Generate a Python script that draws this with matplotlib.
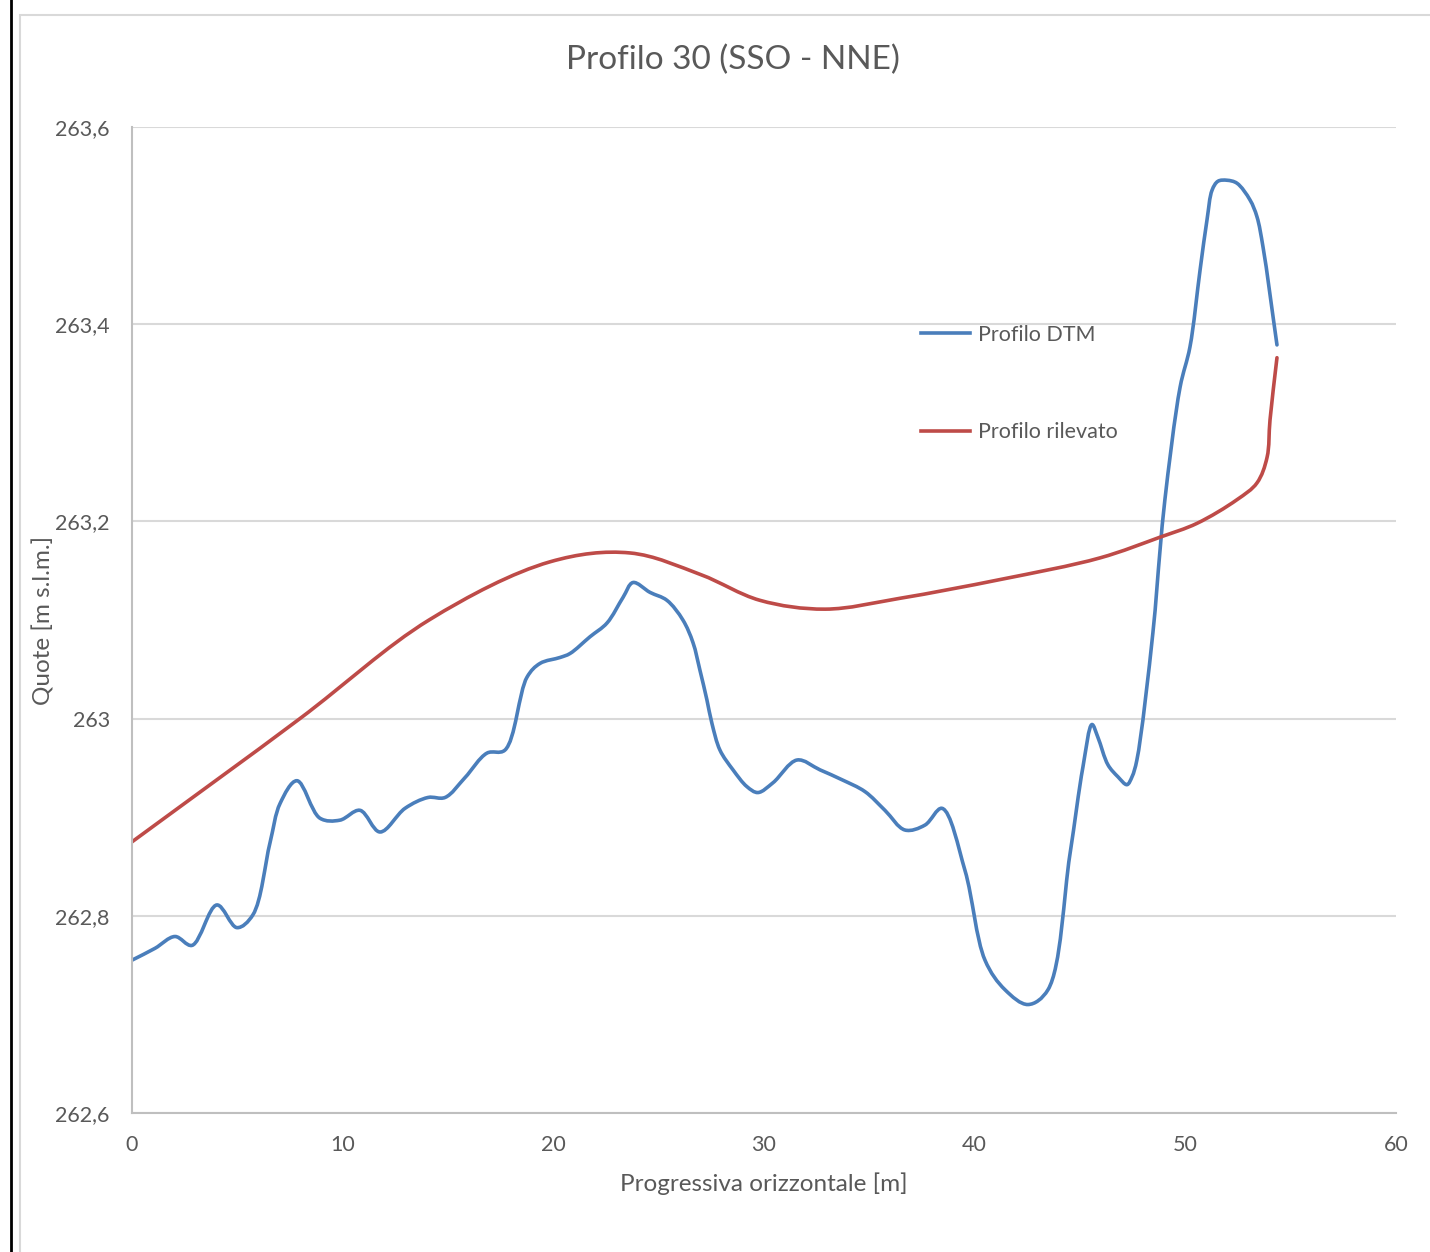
import matplotlib.pyplot as plt
import numpy as np
from matplotlib.path import Path
from matplotlib.patches import PathPatch, Rectangle
from matplotlib.lines import Line2D

plt.rcParams['font.family'] = ['Lato', 'DejaVu Sans']

# dati
x_dtm = [0, 1.09, 2.04, 2.85, 4.03, 4.98, 5.74, 6.55, 7.03, 7.83, 8.92, 9.87,
         10.82, 11.77, 12.96, 14.05, 14.86, 15.8, 16.85, 17.7, 18.75, 19.37,
         20.32, 20.79, 21.74, 22.55, 23.31, 23.78, 24.59, 25.39, 26.15, 26.63,
         26.96, 27.29, 27.53, 27.91, 28.53, 29.19, 29.71, 30.43, 31.57, 32.66,
         33.7, 34.79, 35.74, 36.69, 37.64, 38.45, 39.54, 40.49, 41.44, 42.53,
         43.48, 44.52, 45.14, 45.57, 45.85, 46.33, 46.80, 47.23, 47.47, 47.70,
         48.46, 48.80, 49.03, 49.75, 50.22, 50.70, 51.03, 51.27, 51.55,
         51.98, 52.45, 53.07, 53.40, 53.69, 54.35]
y_dtm = [262.755, 262.767, 262.779, 262.770, 262.811, 262.788, 262.801, 262.874,
         262.914, 262.937, 262.899, 262.897, 262.907, 262.885, 262.909, 262.920,
         262.920, 262.940, 262.965, 262.968, 263.042, 263.056, 263.062, 263.066,
         263.083, 263.097, 263.123, 263.138, 263.128, 263.120, 263.100, 263.077,
         263.049, 263.019, 262.995, 262.968, 262.948, 262.931, 262.925, 262.935,
         262.958, 262.948, 262.938, 262.926, 262.907, 262.887, 262.892, 262.909,
         262.846, 262.755, 262.725, 262.710, 262.725, 262.862, 262.951, 262.994,
         262.981, 262.953, 262.941, 262.933, 262.941, 262.958, 263.087, 263.171,
         263.222, 263.336, 263.377, 263.455, 263.506, 263.536, 263.545,
         263.546, 263.543, 263.526, 263.509, 263.478, 263.379]

x_ril = [0, 7.97, 14.1, 19.84, 23.64, 27.0, 29.8, 32.9, 36.45, 41.2, 45.95,
         48.8, 50.55, 52.45, 53.40, 53.88, 54.02, 54.35]
y_ril = [262.875, 263.0, 263.1, 263.159, 263.168, 263.146, 263.120, 263.111,
         263.122, 263.141, 263.163, 263.184, 263.198, 263.222, 263.239, 263.265,
         263.303, 263.366]

y_ticks = [262.6, 262.8, 263.0, 263.2, 263.4, 263.6]
y_labels = ['262,6', '262,8', '263', '263,2', '263,4', '263,6']
x_ticks = [0, 10, 20, 30, 40, 50, 60]


def smooth_path(ax, xs, ys, alpha=0.5):
    # linea smussata (Catmull-Rom centripeta) calcolata in coordinate schermo
    p = ax.transData.transform(np.column_stack([xs, ys]))
    p = np.vstack([2 * p[0] - p[1], p, 2 * p[-1] - p[-2]])
    verts = [p[1]]
    codes = [Path.MOVETO]
    for i in range(1, len(p) - 2):
        p0, p1, p2, p3 = p[i - 1], p[i], p[i + 1], p[i + 2]
        d1 = max(np.hypot(*(p1 - p0)), 1e-6) ** alpha
        d2 = max(np.hypot(*(p2 - p1)), 1e-6) ** alpha
        d3 = max(np.hypot(*(p3 - p2)), 1e-6) ** alpha
        c1 = (d1**2 * p2 - d2**2 * p0 + (2*d1**2 + 3*d1*d2 + d2**2) * p1) / (3*d1*(d1 + d2))
        c2 = (d3**2 * p1 - d2**2 * p3 + (2*d3**2 + 3*d3*d2 + d2**2) * p2) / (3*d3*(d3 + d2))
        verts += [c1, c2, p2]
        codes += [Path.CURVE4] * 3
    verts = ax.transData.inverted().transform(np.array(verts))
    return Path(verts, codes)


fig = plt.figure(figsize=(14.3, 12.52), dpi=100)
ax = fig.add_axes([132/1430, 1 - 1113/1252, (1396-132)/1430, (1113-127)/1252])
ax.set_xlim(0, 60)
ax.set_ylim(262.6, 263.6)

# cornice del grafico e bordo nero
fig.patches.append(Rectangle((20/1430, -0.1), 1.2, 1 - 15/1252 + 0.1, transform=fig.transFigure,
                             fill=False, edgecolor='#d9d9d9', lw=1.5))
fig.add_artist(Line2D([10.5/1430, 10.5/1430], [0, 1], color='black', lw=2))

blu = '#4a7ebb'
rosso = '#be4b48'
ax.add_patch(PathPatch(smooth_path(ax, x_dtm, y_dtm), fill=False, edgecolor=blu, lw=2.6,
                       capstyle='round', joinstyle='round'))
ax.add_patch(PathPatch(smooth_path(ax, x_ril, y_ril), fill=False, edgecolor=rosso, lw=2.6,
                       capstyle='round', joinstyle='round'))

ax.set_xticks(x_ticks)
ax.set_yticks(y_ticks)
ax.set_yticklabels(y_labels)
ax.tick_params(length=0, labelsize=15.5, labelcolor='#595959')
ax.tick_params(axis='y', pad=16)
ax.tick_params(axis='x', pad=16)
ax.grid(axis='y', color='#d9d9d9', lw=1.5)
ax.set_axisbelow(True)
for s in ['top', 'right']:
    ax.spines[s].set_visible(False)
for s in ['left', 'bottom']:
    ax.spines[s].set_color('#bfbfbf')
    ax.spines[s].set_linewidth(1.5)

ax.set_xlabel('Progressiva orizzontale [m]', fontsize=17.5, color='#595959')
ax.set_ylabel('Quote [m s.l.m.]', fontsize=17.5, color='#595959')
ax.xaxis.set_label_coords(0.5, -(1172 - 1113) / 986)
ax.yaxis.set_label_coords((54 - 132) / 1264, 0.5)
fig.text(733/1430, 1 - 60/1252, 'Profilo 30 (SSO - NNE)', fontsize=24, color='#595959',
         ha='center', va='center')

handles = [Line2D([], [], color=blu, lw=2.6), Line2D([], [], color=rosso, lw=2.6)]
ax.legend(handles, ['Profilo DTM', 'Profilo rilevato'], frameon=False, fontsize=15.5,
          labelcolor='#595959', loc='upper left',
          bbox_to_anchor=(910/1430, 1 - 314/1252), bbox_transform=fig.transFigure,
          handlelength=2.3, handletextpad=0.37, labelspacing=3.6, borderpad=0)

fig.savefig('out.png', dpi=100)
